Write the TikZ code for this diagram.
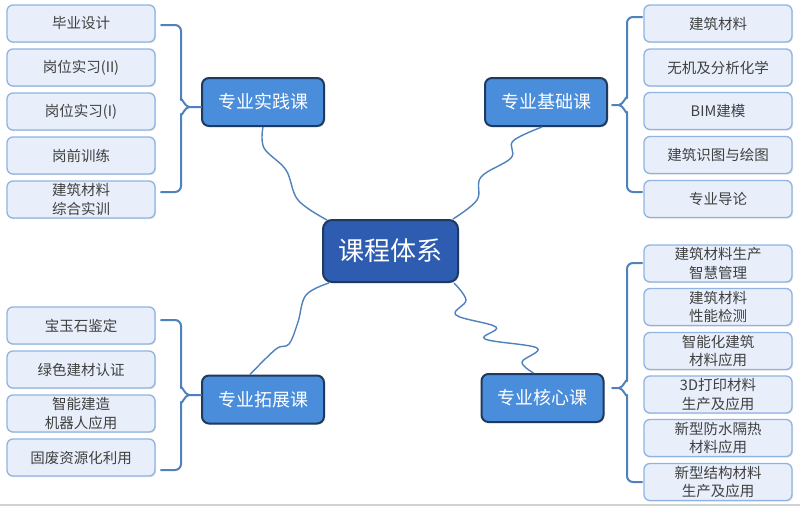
\documentclass[tikz,border=0pt]{standalone}
\usepackage{fontspec}
\setmainfont{Noto Sans CJK SC}
\usetikzlibrary{shadows}
\definecolor{leaffill}{HTML}{E8EFFA}
\definecolor{leafdraw}{HTML}{8FB4E3}
\definecolor{leaftext}{HTML}{404040}
\definecolor{midfill}{HTML}{4A8DDB}
\definecolor{cenfill}{HTML}{2D5CB0}
\definecolor{navy}{HTML}{1F3A60}
\definecolor{linkc}{HTML}{4F81BD}
\begin{document}
\begin{tikzpicture}[x=1pt,y=-1pt,
  leaf/.style={rectangle, rounded corners=6pt, draw=leafdraw, line width=1.3pt,
    fill=leaffill, minimum width=148pt, minimum height=37pt, inner sep=0pt,
    align=center, text=leaftext, font=\fontsize{14.5}{18.5}\selectfont,
    drop shadow={opacity=0.2, shadow xshift=1pt, shadow yshift=-1.2pt}},
  mid/.style={rectangle, rounded corners=7pt, draw=navy, line width=2pt,
    fill=midfill, minimum width=122pt, minimum height=48pt, inner sep=0pt,
    text=white, font=\fontsize{18}{22}\selectfont,
    drop shadow={opacity=0.25, shadow xshift=1pt, shadow yshift=-1.2pt}},
  cen/.style={rectangle, rounded corners=9pt, draw=navy, line width=2pt,
    fill=cenfill, minimum width=135pt, minimum height=62pt, inner sep=0pt,
    text=white, font=\fontsize{26}{30}\selectfont,
    drop shadow={opacity=0.25, shadow xshift=1pt, shadow yshift=-1.2pt}},
  link/.style={draw=linkc, line width=1.4pt},
  brace/.style={draw=linkc, line width=2pt, line cap=round, line join=round}
]
\useasboundingbox (0,0) rectangle (800,506);
\fill[white] (0,0) rectangle (800,506);
\draw[gray!35, line width=1.5pt] (0,505) -- (800,505);

% central and main nodes
\node[cen] (center) at (390.5,251) {课程体系};
\node[mid] (prac) at (263,102) {专业实践课};
\node[mid] (basic) at (546,102) {专业基础课};
\node[mid] (ext) at (263,399.5) {专业拓展课};
\node[mid] (core) at (542.5,398) {专业核心课};

% left top leaves
\node[leaf] (lt1) at (81,23.5) {毕业设计};
\node[leaf] (lt2) at (81,67.5) {岗位实习(II)};
\node[leaf] (lt3) at (81,111.5) {岗位实习(I)};
\node[leaf] (lt4) at (81,155.5) {岗前训练};
\node[leaf] (lt5) at (81,199.5) {建筑材料\\综合实训};

% right top leaves
\node[leaf] (rt1) at (718,23.5) {建筑材料};
\node[leaf] (rt2) at (718,67.5) {无机及分析化学};
\node[leaf] (rt3) at (718,111) {BIM建模};
\node[leaf] (rt4) at (718,155) {建筑识图与绘图};
\node[leaf] (rt5) at (718,199) {专业导论};

% left bottom leaves
\node[leaf] (lb1) at (81,325.5) {宝玉石鉴定};
\node[leaf] (lb2) at (81,369.5) {绿色建材认证};
\node[leaf] (lb3) at (81,413.5) {智能建造\\机器人应用};
\node[leaf] (lb4) at (81,457.5) {固废资源化利用};

% right bottom leaves
\node[leaf] (rb1) at (718,263.5) {建筑材料生产\\智慧管理};
\node[leaf] (rb2) at (718,307) {建筑材料\\性能检测};
\node[leaf] (rb3) at (718,351) {智能化建筑\\材料应用};
\node[leaf] (rb4) at (718,394.5) {3D打印材料\\生产及应用};
\node[leaf] (rb5) at (718,438) {新型防水隔热\\材料应用};
\node[leaf] (rb6) at (718,482) {新型结构材料\\生产及应用};

% braces
\coordinate (tipLT) at (prac.west |- 0,107);
\draw[brace] (161,25) -- (175,25) to[out=0,in=90] (181,31) -- (181,100)
  to[out=90,in=180] (189,107) -- (tipLT);
\draw[brace] (189,107) to[out=180,in=-90] (181,114) -- (181,186)
  to[out=-90,in=0] (175,192) -- (161,192);

\coordinate (tipRT) at (612,105);
\draw[brace] (642,17) -- (633,17) to[out=180,in=90] (627,23) -- (627,98)
  to[out=90,in=0] (619,105) -- (tipRT);
\draw[brace] (619,105) to[out=0,in=-90] (627,112) -- (627,186)
  to[out=-90,in=180] (633,192) -- (642,192);

\coordinate (tipLB) at (ext.west |- 0,395);
\draw[brace] (161,320) -- (175,320) to[out=0,in=90] (181,326) -- (181,388)
  to[out=90,in=180] (189,395) -- (tipLB);
\draw[brace] (189,395) to[out=180,in=-90] (181,402) -- (181,464)
  to[out=-90,in=0] (175,470) -- (161,470);

\coordinate (tipRB) at (612,388);
\draw[brace] (642,263) -- (633,263) to[out=180,in=90] (627,269) -- (627,381)
  to[out=90,in=0] (619,388) -- (tipRB);
\draw[brace] (619,388) to[out=0,in=-90] (627,395) -- (627,476)
  to[out=-90,in=180] (633,482) -- (642,482);

% wavy connectors
\coordinate (cNW) at ([xshift=5pt]center.north west);
\coordinate (cNE) at ([xshift=-5pt]center.north east);
\coordinate (cSW) at ([xshift=7pt]center.south west);
\coordinate (cSE) at ([xshift=-5pt]center.south east);

\draw[link] plot[smooth, tension=0.6] coordinates
  {(prac.south) (264,148) (286,170) (298,200) (327,220)};
\draw[link] plot[smooth, tension=0.6] coordinates
  {([xshift=-4pt]basic.south) (513,141) (511,158) (481,177) (477,200) (453,219)};
\draw[link] plot[smooth, tension=0.6] coordinates
  {(cSE) (466,300) (456,315) (496,327) (485,339) (537,348) (522,362) ([xshift=-9pt]core.north)};
\draw[link] plot[smooth, tension=0.6] coordinates
  {(cSW) (306,295) (298,322) (289,344) (276,349) ([xshift=-13pt]ext.north)};
\end{tikzpicture}
\end{document}
